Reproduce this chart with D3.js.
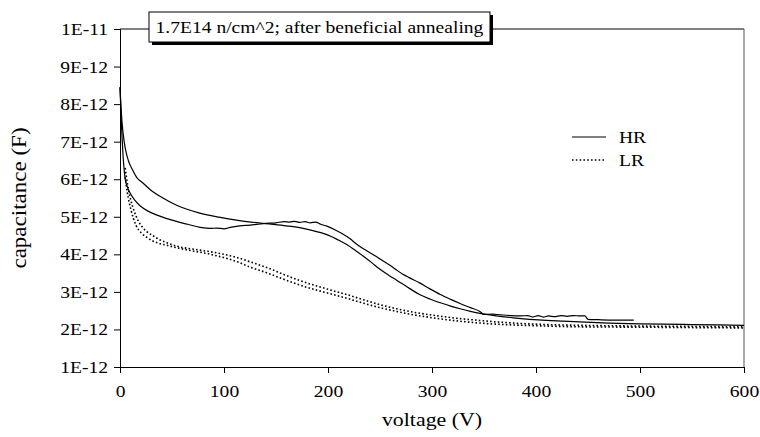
<!DOCTYPE html>
<html>
<head>
<meta charset="utf-8">
<script src="https://cdn.jsdelivr.net/npm/d3@7/dist/d3.min.js"></script>
<style>
  body { margin: 0; background: #fff; }
  text { font-family: "Liberation Serif", "Times New Roman", serif; fill: #000; }
</style>
</head>
<body>
<div id="chart"></div>
<script>
// voltage (V), capacitance (pF)
var hrA = [[0,8.45],[1,7.9],[2,7.5],[4,7.0],[6,6.7],[8,6.5],[12,6.25],[16,6.05],[22,5.9],[30,5.7],[40,5.52],[55,5.3],[75,5.11],[95,4.99],[115,4.9],[140,4.82],[160,4.76],[175,4.7],[190,4.6],[202,4.49],[210,4.38],[218,4.26],[226,4.11],[234,3.95],[242,3.78],[250,3.6],[258,3.45],[266,3.31],[279,3.08],[288,2.93],[298,2.81],[308,2.71],[318,2.62],[327,2.55],[337,2.48],[346,2.43],[360,2.37],[378,2.31],[394,2.27],[410,2.24],[426,2.22],[442,2.2],[470,2.17],[500,2.15],[550,2.13],[600,2.11]];
var hrB = [[0,8.45],[1,7.7],[2,7.1],[3,6.6],[4,6.25],[5,6.0],[7,5.8],[10,5.62],[14,5.45],[19,5.3],[27,5.15],[35,5.05],[45,4.95],[55,4.87],[65,4.8],[77,4.72],[87,4.69],[93,4.7],[100,4.68],[106,4.72],[115,4.76],[125,4.78],[138,4.82],[150,4.84],[158,4.87],[163,4.86],[168,4.88],[173,4.85],[178,4.87],[183,4.84],[188,4.86],[193,4.8],[199,4.75],[207,4.65],[215,4.53],[221,4.42],[227,4.28],[234,4.15],[240,4.05],[246,3.95],[253,3.82],[260,3.7],[266,3.58],[272,3.47],[278,3.38],[288,3.24],[298,3.08],[308,2.93],[318,2.8],[327,2.69],[337,2.58],[346,2.48],[350,2.4],[358,2.41],[366,2.39],[375,2.37],[385,2.36],[392,2.37],[397,2.33],[402,2.37],[407,2.33],[412,2.36],[418,2.34],[424,2.37],[430,2.35],[436,2.37],[442,2.36],[447,2.36],[450,2.27],[460,2.26],[475,2.25],[494,2.25]];
var lrA = [[5,6.3],[7,5.9],[10.6,5.42],[13,5.2],[15.4,5.02],[18,4.87],[20.8,4.75],[26,4.6],[32,4.49],[38,4.39],[45,4.31],[57,4.2],[70,4.14],[82,4.09],[93,4.04],[103,3.98],[112,3.92],[125,3.8],[141,3.65],[157,3.47],[173,3.3],[190,3.15],[205,3.03],[218,2.93],[234,2.79],[250,2.66],[266,2.55],[282,2.46],[298,2.39],[314,2.33],[330,2.28],[346,2.24],[362,2.2],[378,2.17],[410,2.13],[442,2.11],[500,2.09],[550,2.08],[600,2.07]];
var lrB = [[5,6.05],[7,5.65],[10.6,5.18],[13,4.95],[15.4,4.77],[18,4.65],[20.8,4.56],[26,4.45],[32,4.35],[38,4.29],[45,4.24],[57,4.16],[70,4.09],[82,4.03],[93,3.96],[103,3.89],[113,3.8],[125,3.66],[141,3.51],[157,3.34],[173,3.18],[190,3.04],[205,2.93],[218,2.83],[234,2.7],[250,2.58],[266,2.48],[282,2.39],[298,2.32],[314,2.26],[330,2.21],[346,2.17],[362,2.14],[378,2.12],[410,2.09],[442,2.07],[500,2.06],[550,2.05],[600,2.04]];

var xTicks = [0, 100, 200, 300, 400, 500, 600];
var yTicks = [1, 2, 3, 4, 5, 6, 7, 8, 9, 10];
var yTickLabels = ["1E-12", "2E-12", "3E-12", "4E-12", "5E-12", "6E-12", "7E-12", "8E-12", "9E-12", "1E-11"];
var title = "1.7E14 n/cm^2; after beneficial annealing";

var margin = {top: 29, right: 16, bottom: 70, left: 120},
    width = 760 - margin.left - margin.right,
    height = 437 - margin.top - margin.bottom;
var stretch = 1.15;

var svg = d3.select("#chart").append("svg")
    .attr("width", 760)
    .attr("height", 437);
var g = svg.append("g")
    .attr("transform", "translate(" + margin.left + "," + margin.top + ")");

var x = d3.scaleLinear().domain([0, 600]).range([0, width]);
var y = d3.scaleLinear().domain([1, 10]).range([height, 0]);

// frame top + right
g.append("line").attr("x1", 0).attr("x2", width).attr("y1", 0).attr("y2", 0)
    .attr("stroke", "#000");
g.append("line").attr("x1", width).attr("x2", width).attr("y1", 0).attr("y2", height)
    .attr("stroke", "#555");

var xAxis = g.append("g")
    .attr("transform", "translate(0," + height + ")")
    .call(d3.axisBottom(x).tickValues(xTicks).tickSize(6).tickPadding(12));
var yAxis = g.append("g")
    .call(d3.axisLeft(y).tickValues(yTicks).tickSize(6).tickPadding(6)
        .tickFormat(function (d, i) { return yTickLabels[i]; }));
g.selectAll(".domain").attr("stroke", "#000");
g.selectAll(".tick line").attr("stroke", "#000");
g.selectAll(".tick text").style("font-size", "17px")
    .style("font-family", "Liberation Serif");

var line = d3.line()
    .x(function (d) { return x(d[0]); })
    .y(function (d) { return y(d[1]); })
    .curve(d3.curveMonotoneX);

[hrA, hrB].forEach(function (s) {
    g.append("path").datum(s).attr("d", line)
        .attr("fill", "none").attr("stroke", "#000").attr("stroke-width", 1.2);
});
[lrA, lrB].forEach(function (s) {
    g.append("path").datum(s).attr("d", line)
        .attr("fill", "none").attr("stroke", "#000").attr("stroke-width", 1.6)
        .attr("stroke-dasharray", "1.6,2.2");
});

// title box with shadow
var tb = svg.append("g").attr("transform", "translate(149,12)");
tb.append("rect").attr("x", 3).attr("y", 3).attr("width", 341).attr("height", 30).attr("fill", "#000");
tb.append("rect").attr("x", 0).attr("y", 0).attr("width", 341).attr("height", 30)
    .attr("fill", "#fff").attr("stroke", "#000");
tb.append("text").attr("x", 170.5).attr("y", 21).attr("text-anchor", "middle")
    .style("font-size", "17px").text(title);

// legend
var legend = svg.append("g").attr("transform", "translate(572,137)");
legend.append("line").attr("x1", 0).attr("x2", 34).attr("y1", 0).attr("y2", 0)
    .attr("stroke", "#000").attr("stroke-width", 1.2);
legend.append("text").attr("x", 47).attr("y", 6).style("font-size", "17px").text("HR");
legend.append("line").attr("x1", 0).attr("x2", 34).attr("y1", 23).attr("y2", 23)
    .attr("stroke", "#000").attr("stroke-width", 1.6).attr("stroke-dasharray", "1.6,2.2");
legend.append("text").attr("x", 47).attr("y", 29).style("font-size", "17px").text("LR");

// axis titles
svg.append("text").attr("x", margin.left + width / 2).attr("y", 426)
    .attr("text-anchor", "middle").style("font-size", "19px").text("voltage (V)");
svg.append("text").attr("transform", "translate(26," + (margin.top + height / 2) + ") rotate(-90)")
    .attr("text-anchor", "middle").style("font-size", "20px").text("capacitance (F)");

// the original type is set wider than Times; stretch every label to match
svg.selectAll("text").each(function () {
    var len = this.getComputedTextLength();
    d3.select(this).attr("textLength", len * stretch).attr("lengthAdjust", "spacingAndGlyphs");
});
</script>
</body>
</html>
